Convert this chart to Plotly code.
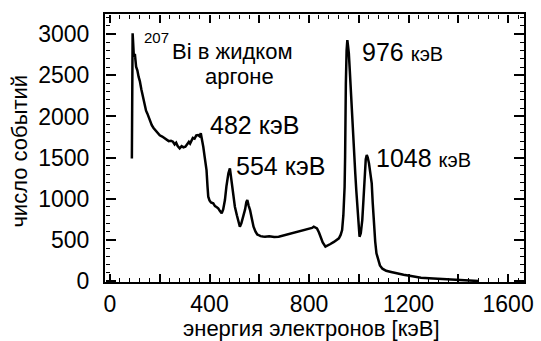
import plotly.graph_objects as go

# spectrum of 207Bi in liquid argon
energy_kev = [88, 90, 91, 93, 96, 100, 105, 110, 115, 120, 126, 132, 140, 145, 150, 155, 160, 168,
              175, 183, 193, 200, 210, 219, 228, 236, 245, 253, 260, 266, 272, 280, 288, 295, 303,
              310, 317, 322, 327, 333, 340, 347, 354, 360, 365, 370, 375, 381, 388, 392, 395, 400,
              406, 415, 422, 428, 435, 442, 449, 455, 462, 468, 473, 476, 482, 486, 489, 495, 502,
              510, 517, 522, 528, 536, 543, 548, 552, 557, 563, 570, 577, 585, 592, 597, 605, 615,
              623, 640, 660, 678, 700, 715, 731, 750, 770, 785, 800, 812, 819, 826, 832, 840, 846,
              855, 866, 876, 886, 900, 912, 920, 927, 933, 938, 941, 943, 945, 946, 948, 951, 954,
              957, 960, 964, 967, 972, 977, 981, 986, 990, 994, 998, 1003, 1008, 1014, 1019, 1024,
              1028, 1032, 1036, 1041, 1046, 1052, 1056, 1061, 1066, 1071, 1078, 1085, 1095, 1110,
              1130, 1150, 1180, 1210, 1250, 1300, 1350, 1400, 1440, 1480]
counts = [1490, 2400, 3010, 2900, 2725, 2760, 2604, 2560, 2483, 2430, 2330, 2240, 2150, 2070, 2037,
          1990, 1950, 1895, 1860, 1830, 1795, 1770, 1755, 1734, 1720, 1700, 1705, 1693, 1660, 1680,
          1640, 1612, 1640, 1625, 1632, 1660, 1690, 1670, 1713, 1740, 1730, 1770, 1774, 1760, 1795,
          1720, 1632, 1500, 1349, 1150, 1024, 980, 955, 944, 910, 900, 883, 850, 823, 870, 984, 1150,
          1280, 1309, 1369, 1270, 1187, 1050, 903, 800, 700, 660, 700, 781, 870, 960, 984, 920, 863,
          760, 660, 600, 565, 559, 545, 540, 538, 545, 535, 538, 555, 565, 580, 590, 605, 620, 630,
          645, 660, 650, 640, 590, 538, 470, 417, 430, 450, 475, 500, 519, 560, 620, 800, 1000, 1146,
          1500, 1956, 2400, 2800, 2928, 2850, 2766, 2550, 2361, 2000, 1750, 1552, 1300, 1100, 903,
          700, 538, 580, 741, 1000, 1349, 1480, 1531, 1500, 1430, 1330, 1187, 950, 660, 480, 337,
          250, 190, 150, 125, 110, 95, 75, 60, 40, 30, 20, 10, 3, 0]

x_label_vals = [0, 400, 800, 1200, 1600]
x_label_text = ["0", "400", "800", "1200", "1600"]
x_major_ticks = [0, 200, 400, 600, 800, 1000, 1200, 1400, 1600]
y_tick_vals = [0, 500, 1000, 1500, 2000, 2500, 3000]
y_tick_text = ["0", "500", "1000", "1500", "2000", "2500", "3000"]

X_RANGE = [-20, 1664]
Y_RANGE = [-12, 3245]
FONT = "Liberation Sans, Arial, sans-serif"

fig = go.Figure()
fig.add_trace(go.Scatter(x=energy_kev, y=counts, mode="lines",
                         line=dict(color="black", width=2.5), showlegend=False))
# empty traces so that the tick-only overlay axes get drawn
fig.add_trace(go.Scatter(x=[None], y=[None], xaxis="x2", yaxis="y2", showlegend=False, hoverinfo="skip"))
fig.add_trace(go.Scatter(x=[None], y=[None], xaxis="x3", yaxis="y3", showlegend=False, hoverinfo="skip"))

tickfont = dict(family=FONT, size=23, color="black")
plain = dict(showgrid=False, zeroline=False, automargin=False)

# main axes: frame + labels
fig.update_layout(
    xaxis=dict(range=X_RANGE, tickmode="array", tickvals=x_label_vals, ticktext=x_label_text,
               ticks="", showline=True, linecolor="black", linewidth=2, mirror=True,
               ticklabelstandoff=0, tickfont=tickfont, **plain),
    yaxis=dict(range=Y_RANGE, tickmode="array", tickvals=y_tick_vals, ticktext=y_tick_text,
               ticks="", showline=True, linecolor="black", linewidth=2, mirror=True,
               ticklabelstandoff=9, tickfont=tickfont, **plain),
)

def tick_axis(side, position, overlay, vals, minor_dtick, length):
    return dict(overlaying=overlay, anchor="free", position=position, side=side,
                tickmode="array", tickvals=vals, ticks="outside", ticklen=length,
                tickwidth=1.6, tickcolor="black", showticklabels=False, showline=False,
                minor=dict(tick0=0, dtick=minor_dtick, ticks="outside", ticklen=4,
                           tickwidth=1.2, tickcolor="black"),
                **plain)

fig.update_layout(
    xaxis2=dict(range=X_RANGE, **tick_axis("top", 0, "x", x_major_ticks, 40, 8)),
    xaxis3=dict(range=X_RANGE, **tick_axis("bottom", 1, "x", x_major_ticks, 40, 8)),
    yaxis2=dict(range=Y_RANGE, **tick_axis("right", 0, "y", y_tick_vals, 100, 10)),
    yaxis3=dict(range=Y_RANGE, **tick_axis("left", 1, "y", y_tick_vals, 100, 10)),
)

def note(x, y, text, size, anchor="left", xref="x", yref="y", angle=0):
    fig.add_annotation(x=x, y=y, xref=xref, yref=yref, text=text, showarrow=False,
                       xanchor=anchor, yanchor="middle", textangle=angle,
                       font=dict(family=FONT, size=size, color="black"))

note(128, 2960, "207", 15)
note(242, 2790, "Bi в жидком", 22)
note(374, 2480, "аргоне", 22)
note(393, 1895, "482 кэВ", 25)
note(498, 1397, "554 кэВ", 25)
note(1003, 2782, "976 <span style='font-size:20px'>кэВ</span>", 25)
note(1060, 1495, "1048 <span style='font-size:20px'>кэВ</span>", 25)
# axis titles
note(0.493, -0.174, "энергия электронов [кэВ]", 22, anchor="center", xref="paper", yref="paper")
note(-0.203, 0.49, "число событий", 22, anchor="center", xref="paper", yref="paper", angle=-90)

fig.update_layout(width=541, height=341, margin=dict(l=105, r=17, t=14, b=59),
                  plot_bgcolor="white", paper_bgcolor="white", template="none")

fig.write_html("out.html", config={"displayModeBar": False},
               post_script="document.body.style.margin='0';")
